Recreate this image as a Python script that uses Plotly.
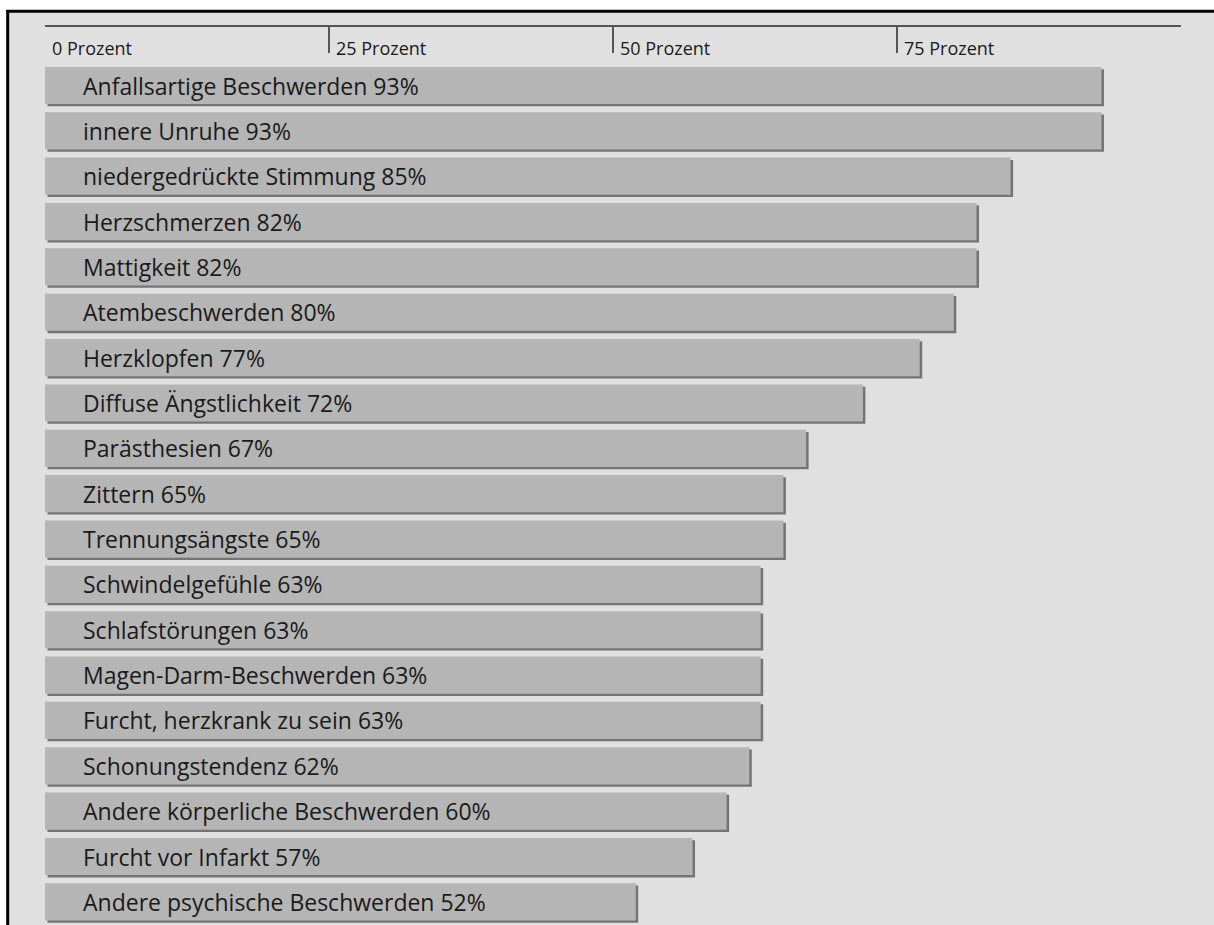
import plotly.graph_objects as go

categories = [
    "Anfallsartige Beschwerden", "innere Unruhe", "niedergedrückte Stimmung",
    "Herzschmerzen", "Mattigkeit", "Atembeschwerden", "Herzklopfen",
    "Diffuse Ängstlichkeit", "Parästhesien", "Zittern", "Trennungsängste",
    "Schwindelgefühle", "Schlafstörungen", "Magen-Darm-Beschwerden",
    "Furcht, herzkrank zu sein", "Schonungstendenz",
    "Andere körperliche Beschwerden", "Furcht vor Infarkt",
    "Andere psychische Beschwerden",
]
values = [93, 93, 85, 82, 82, 80, 77, 72, 67, 65, 65, 63, 63, 63, 63, 62, 60, 57, 52]
tick_values = [0, 25, 50, 75, 100]
tick_labels = ["0 Prozent", "25 Prozent", "50 Prozent", "75 Prozent", ""]

W, H = 1214, 925
L, R, T, B = 45, 33, 27, 0
pos = list(range(len(categories)))
bar_w = 0.82
shadow_dx = 0.22
shadow_dy = 0.05

fig = go.Figure()
fig.add_trace(go.Bar(
    y=pos, x=values, base=shadow_dx, orientation="h", width=bar_w,
    offset=-bar_w / 2 + shadow_dy,
    marker=dict(color="#747474", line=dict(width=0)),
    hoverinfo="skip", showlegend=False,
))
fig.add_trace(go.Bar(
    y=pos, x=values, orientation="h", width=bar_w, offset=-bar_w / 2,
    marker=dict(color="#b5b5b5", line=dict(width=0)),
    showlegend=False,
))

annotations = []
for p, c, v in zip(pos, categories, values):
    annotations.append(dict(
        x=0, y=p, xref="x", yref="y", text=f"{c} {v}%", showarrow=False,
        xanchor="left", yanchor="middle", xshift=36, yshift=0,
        font=dict(family="Open Sans", size=23, color="#1a1a1a"),
    ))

plot_h = H - T - B
plot_w = W - L - R


def px_x(p):
    return (p - L) / plot_w


def px_y(p):
    return 1 - (p - T) / plot_h


fig.update_layout(
    width=W, height=H,
    margin=dict(l=L, r=R, t=T, b=B, pad=0),
    paper_bgcolor="#e0e0e0", plot_bgcolor="#e0e0e0",
    barmode="overlay",
    annotations=annotations,
    shapes=[
        dict(type="rect", xref="paper", yref="paper",
             x0=px_x(0), x1=px_x(W), y0=px_y(10), y1=px_y(0),
             fillcolor="white", line=dict(width=0), layer="below"),
        dict(type="rect", xref="paper", yref="paper",
             x0=px_x(0), x1=px_x(6), y0=px_y(H), y1=px_y(0),
             fillcolor="white", line=dict(width=0), layer="below"),
        dict(type="line", xref="paper", yref="paper",
             x0=px_x(6.3), x1=px_x(W), y0=px_y(11.3), y1=px_y(11.3),
             line=dict(color="black", width=3), layer="below"),
        dict(type="line", xref="paper", yref="paper",
             x0=px_x(7.7), x1=px_x(7.7), y0=px_y(H), y1=px_y(10),
             line=dict(color="black", width=3), layer="below"),
    ],
    xaxis=dict(
        range=[0, 100], side="top", showgrid=False, zeroline=False,
        showline=True, linecolor="#555555", linewidth=2,
        tickmode="array", tickvals=tick_values, ticktext=tick_labels,
        ticks="inside", ticklen=26, tickwidth=2, tickcolor="#555555",
        ticklabelposition="inside right", ticklabelstandoff=13,
        ticklabelshift=5,
        tickfont=dict(family="Open Sans", size=18, color="#1a1a1a"),
    ),
    yaxis=dict(
        range=[18.51, -1.29], showgrid=False, zeroline=False,
        showticklabels=False, showline=False, ticks="",
    ),
)
fig.write_html("out.html")
